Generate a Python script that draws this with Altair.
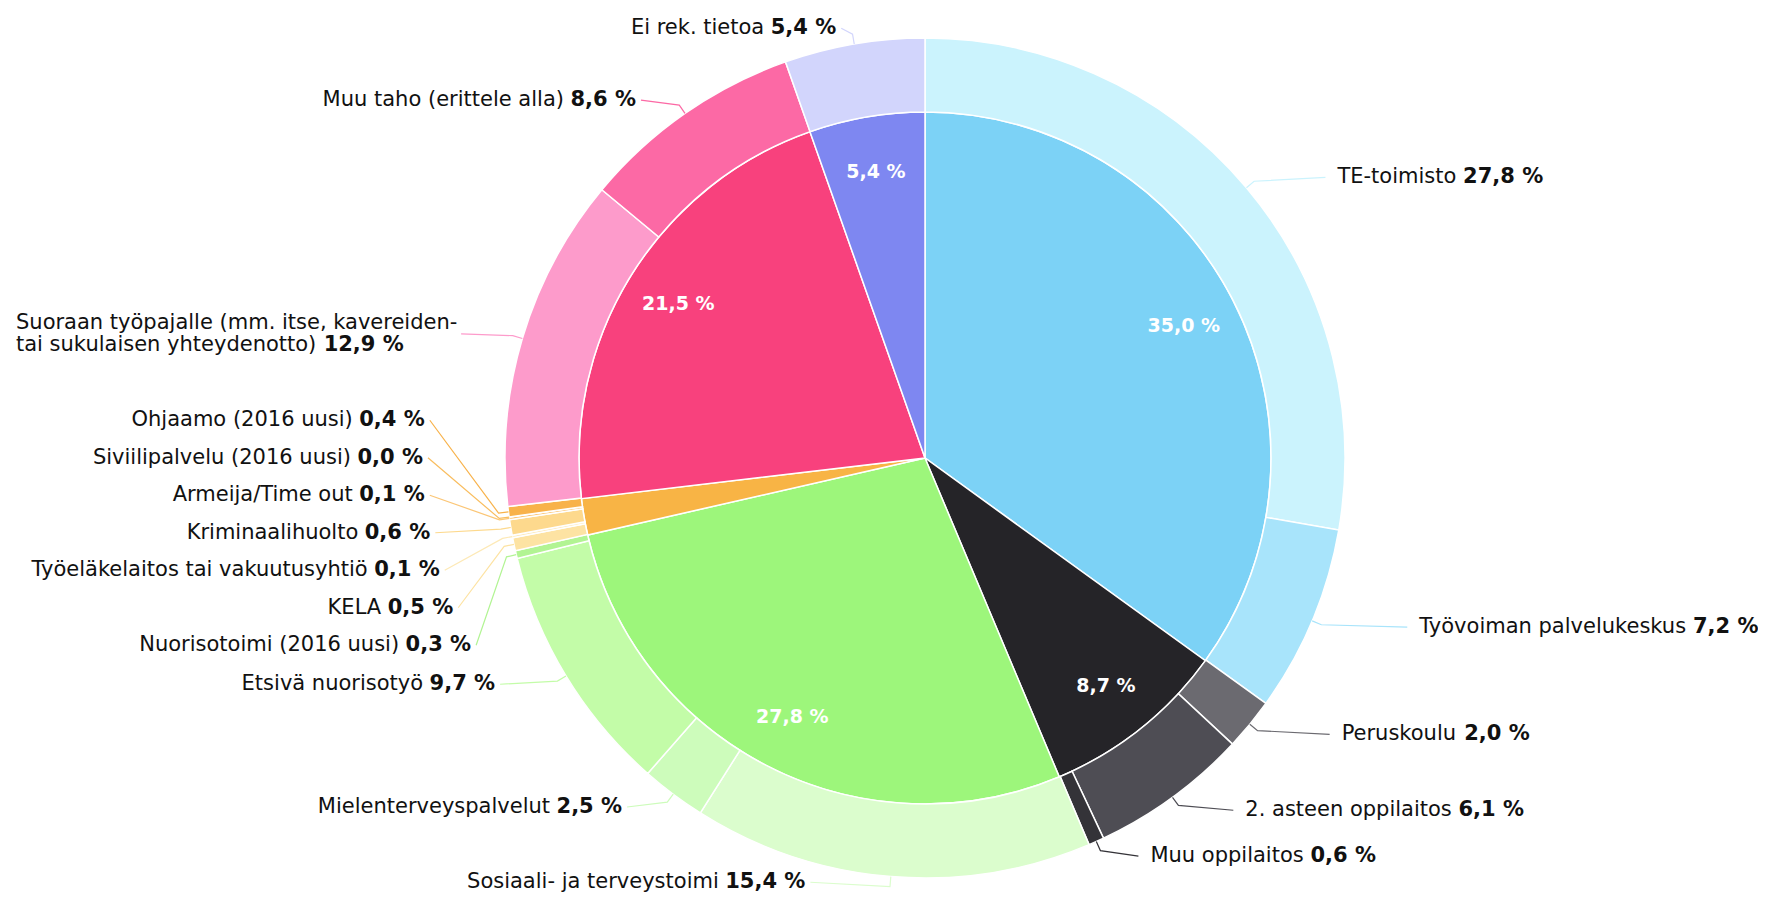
import math
import altair as alt
import pandas as pd

# ---------------- data ----------------
inner_groups = ["TE-hallinto", "Oppilaitokset", "Sosiaali- ja nuorisopalvelut",
                "Muut viranomaiset", "Muu taho / suoraan", "Ei rek. tietoa"]
inner_values = [35.0, 8.7, 27.8, 1.7, 21.5, 5.4]
inner_colors = ["#7cd2f6", "#252428", "#9df67b", "#f8b445", "#f8417d", "#7e87f1"]

outer_names = [
    "TE-toimisto", "Työvoiman palvelukeskus", "Peruskoulu", "2. asteen oppilaitos",
    "Muu oppilaitos", "Sosiaali- ja terveystoimi", "Mielenterveyspalvelut",
    "Etsivä nuorisotyö", "Nuorisotoimi (2016 uusi)", "KELA",
    "Työeläkelaitos tai vakuutusyhtiö", "Kriminaalihuolto", "Armeija/Time out",
    "Siviilipalvelu (2016 uusi)", "Ohjaamo (2016 uusi)",
    "Suoraan työpajalle (mm. itse, kavereiden-\ntai sukulaisen yhteydenotto)",
    "Muu taho (erittele alla)", "Ei rek. tietoa",
]
outer_values = [27.8, 7.2, 2.0, 6.1, 0.6, 15.4, 2.5, 9.7, 0.3, 0.5, 0.1, 0.6, 0.1, 0.0, 0.4, 12.9, 8.6, 5.4]
outer_colors = ["#cbf3fd", "#a8e4fb", "#6b6a70", "#4e4d54", "#343338", "#dbfdcd", "#cdfcbb",
                "#c3fca8", "#b2f493", "#fde3a3", "#fde9b6", "#fdd98d", "#fbc676", "#f9bd5e",
                "#f8b24a", "#fd9bcb", "#fc69a5", "#d2d5fc"]

# ---------------- layout ----------------
W, H = 1750, 885
CX, CY = 917, 450
R_OUT, R_IN = 420, 346
LAB_R = 436
KX_L, KX_R = 1.14, 1.20
LINE = 37.5
SUB = 22
FS, FS_IN = 21, 19
FONT = "DejaVu Sans"
TXT = "#111111"
MIN_INNER_LABEL = 3.0
LEFT_LIMIT = 8

W_REG = {' ': 651, '%': 1946, '(': 799, ')': 799, ',': 651, '-': 739, '.': 651, '/': 690,
         'A': 1401, 'E': 1294, 'K': 1343, 'L': 1141, 'M': 1767, 'O': 1612, 'P': 1235,
         'S': 1300, 'T': 1251, 'a': 1255, 'b': 1300, 'c': 1126, 'd': 1300, 'e': 1260,
         'f': 721, 'g': 1300, 'h': 1298, 'i': 569, 'j': 569, 'k': 1186, 'l': 569,
         'm': 1995, 'n': 1298, 'o': 1253, 'p': 1300, 'r': 842, 's': 1067, 't': 803,
         'u': 1298, 'v': 1212, 'y': 1212, 'ä': 1255, 'ö': 1253}
for dgt in "0123456789":
    W_REG[dgt] = 1303
W_BOLD = {' ': 713, ',': 758, '%': 2052, '.': 758}
for dgt in "0123456789":
    W_BOLD[dgt] = 1425
KERN = {"Ty": -200, "yö": -80, "vo": -80, "ve": -80, "yt": -40, "ty": -40}


def tw(s, bold=False, size=FS):
    tab = W_BOLD if bold else W_REG
    u = sum(tab.get(ch, 1400 if bold else 1250) for ch in s)
    if not bold:
        u += sum(KERN.get(s[j:j + 2], 0) for j in range(len(s) - 1))
    return u / 2048 * size


def fmt(v):
    return f"{v:.1f}".replace(".", ",") + " %"


def cumul(vals):
    tot = sum(vals)
    out, c = [], 0.0
    for v in vals:
        out.append((c / tot, (c + v) / tot))
        c += v
    return out


inner_cum = cumul(inner_values)
outer_cum = cumul(outer_values)

inner_df = pd.DataFrame({
    "group": inner_groups, "t0": [a for a, b in inner_cum], "t1": [b for a, b in inner_cum],
    "color": inner_colors,
})
outer_df = pd.DataFrame({
    "name": outer_names, "t0": [a for a, b in outer_cum], "t1": [b for a, b in outer_cum],
    "color": outer_colors,
})

# inner labels (small slices get no label)
in_rows = []
for g, v, (a0, a1) in zip(inner_groups, inner_values, inner_cum):
    if v < MIN_INNER_LABEL:
        continue
    ang = 2 * math.pi * (a0 + a1) / 2
    r = 0.84 * R_IN
    in_rows.append({"x": CX + r * math.sin(ang), "y": CY - r * math.cos(ang), "text": fmt(v)})
in_lab = pd.DataFrame(in_rows)

# outer labels: ideal positions then collision resolution per side
items = []
for i, (n, v, (a0, a1)) in enumerate(zip(outer_names, outer_values, outer_cum)):
    ang = 2 * math.pi * (a0 + a1) / 2
    lines = n.split("\n")
    items.append({
        "i": i, "ang": ang, "lines": lines, "val": fmt(v),
        "side": "L" if math.sin(ang) < 0 else "R",
        "iy": CY - LAB_R * math.cos(ang),
        "h": LINE if len(lines) == 1 else LINE + SUB,
    })


def distribute(its, top, bottom):
    its.sort(key=lambda d: d["iy"])
    clusters = [[it] for it in its]

    def place(cl):
        tot = sum(it["h"] for it in cl)
        c = sum(it["iy"] for it in cl) / len(cl)
        start = max(top, min(c - tot / 2, bottom - tot))
        yy = start
        for it in cl:
            it["y"] = yy + it["h"] / 2
            yy += it["h"]
        return start, start + tot

    changed = True
    while changed:
        changed = False
        spans = [place(cl) for cl in clusters]
        for j in range(len(clusters) - 1):
            if spans[j][1] > spans[j + 1][0] + 1e-6:
                clusters[j] = clusters[j] + clusters[j + 1]
                del clusters[j + 1]
                changed = True
                break
    for cl in clusters:
        place(cl)


distribute([it for it in items if it["side"] == "L"], -6, H + 8)
distribute([it for it in items if it["side"] == "R"], -6, H + 8)

txt_rows, conn_rows = [], []
for it in items:
    y = it["y"]
    dy = y - CY
    q = max(LAB_R ** 2 - dy ** 2, 0.0)
    ang = it["ang"]
    lines = it["lines"]
    n = len(lines)
    ys = [y + (j - (n - 1) / 2) * SUB for j in range(n)]
    if it["side"] == "L":
        xa = CX - KX_L * math.sqrt(q)
        widths = [tw(l) for l in lines[:-1]] + [tw(lines[-1] + " ") + tw(it["val"], True)]
        block = max(widths)
        xend = xa - 5
        if xend - block < LEFT_LIMIT:
            xend = LEFT_LIMIT + block
            xa = xend + 5
    else:
        xa = CX + KX_R * math.sqrt(q)
    # connector
    ex, ey = CX + R_OUT * math.sin(ang), CY - R_OUT * math.cos(ang)
    bx, by = CX + (R_OUT + 10) * math.sin(ang), CY - (R_OUT + 10) * math.cos(ang)
    col = outer_colors[it["i"]]
    for k, (px, py) in enumerate([(ex, ey), (bx, by), (xa, y)]):
        conn_rows.append({"id": it["i"], "k": k, "x": px, "y": py, "color": col})
    if it["side"] == "L":
        if n == 1:
            wv = tw(it["val"], True)
            txt_rows.append({"x": xend, "y": ys[0], "text": it["val"], "align": "right", "bold": 1})
            txt_rows.append({"x": xend - wv - tw(" "), "y": ys[0], "text": lines[0], "align": "right", "bold": 0})
        else:
            xs = xend - block
            for j, l in enumerate(lines):
                txt_rows.append({"x": xs, "y": ys[j], "text": l, "align": "left", "bold": 0})
            txt_rows.append({"x": xs + tw(lines[-1] + " "), "y": ys[-1], "text": it["val"], "align": "left", "bold": 1})
    else:
        xs = xa + 12
        for j, l in enumerate(lines):
            txt_rows.append({"x": xs, "y": ys[j], "text": l, "align": "left", "bold": 0})
        txt_rows.append({"x": xs + tw(lines[-1] + " "), "y": ys[-1], "text": it["val"], "align": "left", "bold": 1})

txt = pd.DataFrame(txt_rows)
conn = pd.DataFrame(conn_rows)

theta_scale = alt.Scale(domain=[0, 1], range=[0, 2 * math.pi])

inner = alt.Chart(inner_df).mark_arc(outerRadius=R_IN, stroke="white", strokeWidth=1.5).encode(
    theta=alt.Theta("t0:Q", scale=theta_scale, stack=False),
    theta2="t1:Q",
    color=alt.Color("color:N", scale=None),
    x=alt.value(CX), y=alt.value(CY),
)
outer = alt.Chart(outer_df).mark_arc(outerRadius=R_OUT, innerRadius=R_IN, stroke="white", strokeWidth=1.5).encode(
    theta=alt.Theta("t0:Q", scale=theta_scale, stack=False),
    theta2="t1:Q",
    color=alt.Color("color:N", scale=None),
    x=alt.value(CX), y=alt.value(CY),
)

XP = alt.X("x:Q", scale=None, axis=None)
YP = alt.Y("y:Q", scale=None, axis=None)

connectors = alt.Chart(conn).mark_line(strokeWidth=1.2).encode(
    x=XP, y=YP, detail="id:N", order="k:Q", color=alt.Color("color:N", scale=None)
)


def text_layer(align, bold):
    d = txt[(txt["align"] == align) & (txt["bold"] == bold)]
    return alt.Chart(d).mark_text(
        align=align, baseline="middle", font=FONT, fontSize=FS,
        fontWeight="bold" if bold else "normal", color=TXT,
    ).encode(x=XP, y=YP, text="text:N")


inner_text = alt.Chart(in_lab).mark_text(
    align="center", baseline="middle", font=FONT, fontSize=FS_IN, fontWeight="bold", color="white"
).encode(x=XP, y=YP, text="text:N")

chart = alt.layer(
    inner, outer, connectors,
    text_layer("left", 0), text_layer("left", 1),
    text_layer("right", 0), text_layer("right", 1),
    inner_text,
).properties(
    width=W, height=H, padding=0, autosize=alt.AutoSizeParams(type="none"),
    background="white",
).configure_view(stroke=None)

chart.save("out.html", embed_options={"renderer": "svg", "actions": False})
